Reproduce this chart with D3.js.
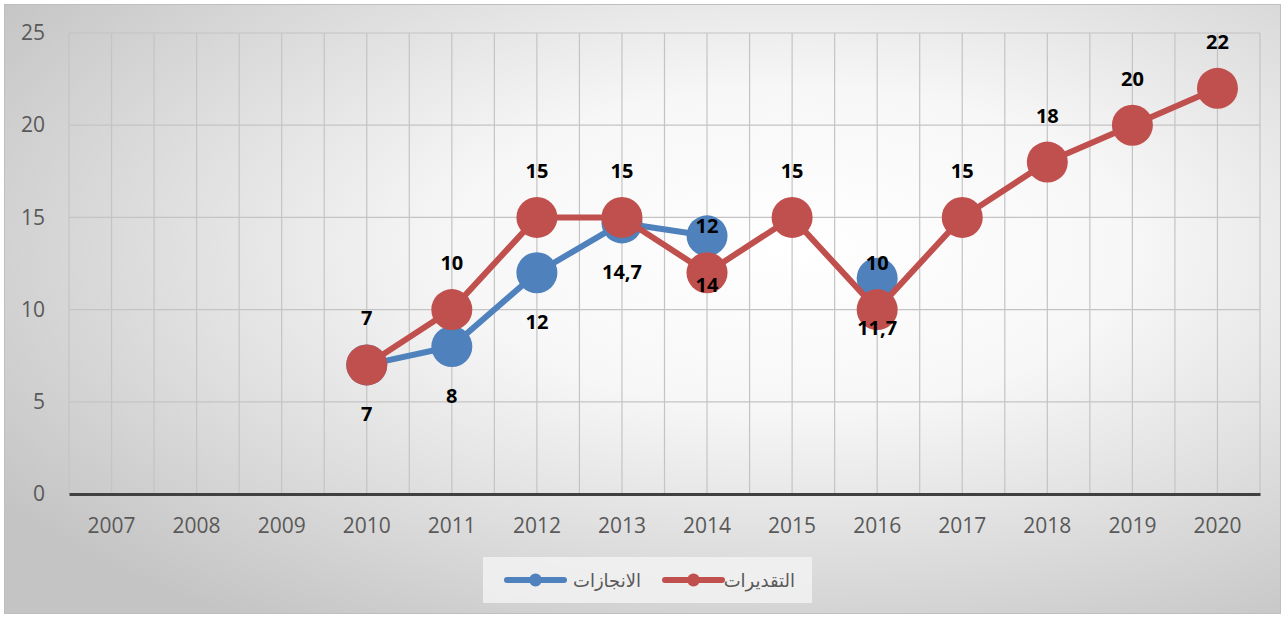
<!DOCTYPE html>
<html>
<head>
<meta charset="utf-8">
<script src="https://cdn.jsdelivr.net/npm/d3@7"></script>
<style>
  html, body { margin: 0; padding: 0; background: #fff; }
  svg { display: block; }
</style>
</head>
<body>
<svg id="chart" width="1285" height="618"></svg>
<script>
// Years on the category axis
const years = ["2007", "2008", "2009", "2010", "2011", "2012", "2013", "2014", "2015", "2016", "2017", "2018", "2019", "2020"];
// Achievements (الانجازات) — null where no value exists
const achievements = [null, null, null, 7, 8, 12, 14.7, 14, null, 11.7, null, null, null, null];
// Estimates (التقديرات)
const estimates = [null, null, null, 7, 10, 15, 15, 12, 15, 10, 15, 18, 20, 22];
// Y axis ticks
const yTicks = [0, 5, 10, 15, 20, 25];
// Legend names
const seriesNames = ["التقديرات", "الانجازات"];

const svg = d3.select("#chart");
const W = 1285, H = 618;

// Background with radial shading
const defs = svg.append("defs");
const grad = defs.append("radialGradient").attr("id", "bg")
  .attr("cx", "62%").attr("cy", "40%").attr("r", "75%");
grad.append("stop").attr("offset", "0%").attr("stop-color", "#ffffff");
grad.append("stop").attr("offset", "35%").attr("stop-color", "#f7f7f7");
grad.append("stop").attr("offset", "100%").attr("stop-color", "#c4c4c4");

svg.append("rect").attr("x", 4.5).attr("y", 4.5).attr("width", W - 9).attr("height", H - 9)
  .attr("fill", "url(#bg)").attr("stroke", "#bfbfbf").attr("stroke-width", 1);

const plot = { left: 69, right: 1260, top: 33, bottom: 494 };

const x = d3.scaleBand().domain(years).range([plot.left, plot.right]).padding(0);
const y = d3.scaleLinear().domain([0, 25]).range([plot.bottom, plot.top]);
const cx = d => x(d) + x.bandwidth() / 2;

const font = "'Open Sans', 'Liberation Sans', sans-serif";

// Horizontal gridlines
svg.append("g").selectAll("line").data(yTicks.filter(t => t > 0)).join("line")
  .attr("x1", plot.left).attr("x2", plot.right)
  .attr("y1", d => y(d)).attr("y2", d => y(d))
  .attr("stroke", "#c4c4c4").attr("stroke-width", 1.2);

// Vertical gridlines at category edges and centres
const vLines = [];
years.forEach(yr => { vLines.push(x(yr)); vLines.push(cx(yr)); });
vLines.push(plot.right);
svg.append("g").selectAll("line").data(vLines).join("line")
  .attr("x1", d => d).attr("x2", d => d)
  .attr("y1", plot.top).attr("y2", plot.bottom)
  .attr("stroke", "#c4c4c4").attr("stroke-width", 1.2);

// Y axis labels
const yAxis = d3.axisLeft(y).tickValues(yTicks).tickSize(0).tickPadding(24);
const gy = svg.append("g").attr("transform", `translate(${plot.left},0)`).call(yAxis);
gy.select(".domain").remove();
gy.selectAll("text").attr("font-family", font).attr("font-size", 21).attr("fill", "#595959");

// X axis
const xAxis = d3.axisBottom(x).tickSize(0).tickPadding(24);
const gx = svg.append("g").attr("transform", `translate(0,${plot.bottom})`).call(xAxis);
gx.select(".domain").attr("stroke", "#404040").attr("stroke-width", 3);
gx.selectAll("text").attr("font-family", font).attr("font-size", 21).attr("fill", "#595959");

const blue = "#4f81bd", red = "#c0504d";

function drawSeries(vals, color) {
  const pts = years.map((yr, i) => ({ yr, v: vals[i] }));
  const line = d3.line().defined(d => d.v !== null).x(d => cx(d.yr)).y(d => y(d.v));
  svg.append("path").datum(pts).attr("d", line)
    .attr("fill", "none").attr("stroke", color).attr("stroke-width", 6)
    .attr("stroke-linejoin", "round");
  const valid = pts.filter(d => d.v !== null);
  svg.append("g").selectAll("circle").data(valid).join("circle")
    .attr("cx", d => cx(d.yr)).attr("cy", d => y(d.v)).attr("r", 20.5)
    .attr("fill", color);
  return valid;
}

const blueLabels = drawSeries(achievements, blue);
const redLabels = drawSeries(estimates, red);

// Data labels: estimates above, achievements below
function labels(data, dy) {
  svg.append("g").selectAll("text").data(data).join("text")
    .attr("x", d => cx(d.yr)).attr("y", d => y(d.v) + dy)
    .attr("text-anchor", "middle").attr("dominant-baseline", "central")
    .attr("font-family", font).attr("font-size", 20).attr("font-weight", "bold")
    .attr("fill", "#000")
    .text(d => String(d.v).replace(".", ","));
}
labels(redLabels, -47);
labels(blueLabels, 49);

// Legend
const lg = svg.append("g");
lg.append("rect").attr("x", 483).attr("y", 557).attr("width", 329).attr("height", 46)
  .attr("fill", "#f2f2f2").attr("opacity", 0.85);
const legendItems = [
  { name: seriesNames[0], color: red, lineX: 665, textX: 795 },
  { name: seriesNames[1], color: blue, lineX: 507, textX: 641 }
];
legendItems.forEach(it => {
  lg.append("line").attr("x1", it.lineX).attr("x2", it.lineX + 57)
    .attr("y1", 580).attr("y2", 580).attr("stroke", it.color).attr("stroke-width", 6)
    .attr("stroke-linecap", "round");
  lg.append("circle").attr("cx", it.lineX + 28.5).attr("cy", 580).attr("r", 6.5).attr("fill", it.color);
  lg.append("text").attr("x", it.textX).attr("y", 580).attr("text-anchor", "end")
    .attr("dominant-baseline", "central")
    .attr("font-family", "'DejaVu Sans', 'Noto Sans', sans-serif").attr("font-size", 18)
    .attr("fill", "#595959").text(it.name);
});
</script>
</body>
</html>
